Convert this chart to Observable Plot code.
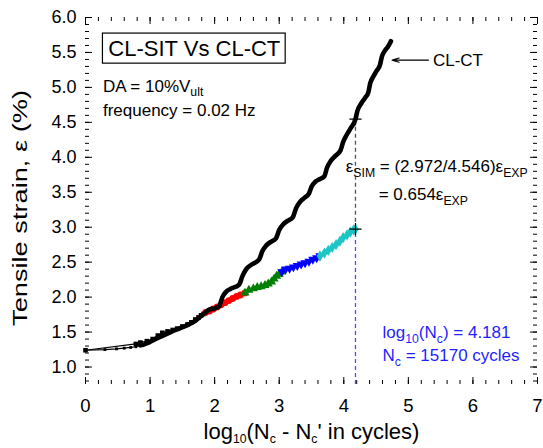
<!DOCTYPE html>
<html><head><meta charset="utf-8">
<script src="https://cdn.jsdelivr.net/npm/d3@7"></script>
<script src="https://cdn.jsdelivr.net/npm/@observablehq/plot@0.6"></script>
<style>body{margin:0;background:#fff} svg{overflow:visible}</style>
</head><body><div id="chart"></div>
<script>
// ---- CL-CT (black, experiment) ----
const ctX = [0,0.30,0.48,0.60,0.70,0.78,0.85,0.90,0.95,1.00,1.04,1.20,1.32,1.45,1.58,1.70,1.79,1.86,1.91,2.00,2.07,
  2.12,2.17,2.25,2.38, 2.43,2.49,2.58,2.69, 2.74,2.80,2.87,2.95, 3.00,3.06,3.13,3.21, 3.26,3.32,3.39,3.46,
  3.50,3.56,3.63,3.70, 3.74,3.80,3.87,3.95, 3.99,4.05,4.11,4.181, 4.21,4.27,4.33,4.38, 4.41,4.46,4.51,4.56,
  4.59,4.64,4.69,4.73];
const ctV = [1.24,1.25,1.26,1.27,1.28,1.29,1.31,1.32,1.34,1.36,1.38,1.45,1.50,1.55,1.60,1.66,1.73,1.78,1.82,1.84,1.87,
  2.00,2.07,2.12,2.18, 2.30,2.40,2.47,2.54, 2.66,2.74,2.79,2.84, 2.96,3.04,3.09,3.14, 3.27,3.36,3.42,3.48,
  3.58,3.65,3.69,3.73, 3.85,3.95,4.02,4.10, 4.22,4.33,4.42,4.546, 4.66,4.77,4.85,4.93, 5.06,5.16,5.24,5.32,
  5.44,5.53,5.59,5.66];
// ---- CL-SIT (simulation) segments ----
const sitBlackX = [0,0.78,0.85,0.95,1.04,1.12,1.19,1.27,1.35,1.42,1.50,1.58,1.64,1.70,1.75,1.79,1.83,1.86];
const sitBlackV = [1.24,1.33,1.35,1.37,1.40,1.45,1.49,1.51,1.53,1.55,1.58,1.61,1.64,1.68,1.71,1.74,1.76,1.78];
const sitRedX = [1.86,1.92,1.98,2.04,2.10,2.16,2.22,2.28,2.34,2.40,2.47];
const sitRedV = [1.78,1.80,1.83,1.86,1.89,1.92,1.95,1.98,2.01,2.03,2.06];
const sitGreenX = [2.47,2.53,2.60,2.66,2.72,2.78,2.83,2.88,2.92,2.96,3.00,3.04];
const sitGreenV = [2.06,2.10,2.12,2.14,2.15,2.17,2.19,2.22,2.26,2.30,2.33,2.36];
const sitBlueX = [3.04,3.10,3.16,3.22,3.28,3.34,3.40,3.46,3.52,3.58,3.63];
const sitBlueV = [2.36,2.40,2.41,2.43,2.45,2.47,2.49,2.51,2.54,2.56,2.59];
const sitCyanX = [3.63,3.70,3.76,3.82,3.88,3.94,3.99,4.05,4.10,4.15,4.181];
const sitCyanV = [2.59,2.63,2.67,2.71,2.75,2.80,2.85,2.89,2.93,2.96,2.972];
// ---- key values ----
const logNc = 4.181, epsSim = 2.972, epsExp = 4.546;
// ---- axes ----
const xTicks = [0,1,2,3,4,5,6,7];
const yTicks = [1.0,1.5,2.0,2.5,3.0,3.5,4.0,4.5,5.0,5.5,6.0];
const xMinor = d3.range(0, 7.001, 0.2);
const yMinor = d3.range(0.8, 6.001, 0.1);
const xTitle = "log_{10}(N_{c} - N_{c}' in cycles)";
const yTitle = "Tensile strain, ε (%)";
// ---- annotations ----
const titleBox = {x1: 0.27, x2: 3.10, y1: 5.34, y2: 5.77, text: "CL-SIT Vs CL-CT"};
const notes = [
  {x: 0.27, y: 4.94, text: "DA = 10%V_{ult}", color: "black"},
  {x: 0.27, y: 4.59, text: "frequency = 0.02 Hz", color: "black"},
  {x: 4.03, y: 3.79, text: "ε_{SIM} = (2.972/4.546)ε_{EXP}", color: "black"},
  {x: 4.54, y: 3.39, text: "= 0.654ε_{EXP}", color: "black"},
  {x: 4.60, y: 1.41, text: "log_{10}(N_{c}) = 4.181", color: "#1f1fff"},
  {x: 4.60, y: 1.08, text: "N_{c} = 15170 cycles", color: "#1f1fff"}
];
const ctLabel = {x: 5.38, y: 5.39, text: "CL-CT", ax1: 5.31, ax2: 4.75};

const zip = (xs, vs) => xs.map((x, i) => ({x, v: vs[i]}));
const ct = zip(ctX, ctV);
const ctThin = ct.filter(d => d.x <= 0.95);
const ctThick = ct.filter(d => d.x >= 0.85);
const sitB = zip(sitBlackX, sitBlackV), sitR = zip(sitRedX, sitRedV), sitG = zip(sitGreenX, sitGreenV),
      sitBl = zip(sitBlueX, sitBlueV), sitC = zip(sitCyanX, sitCyanV);

const FH = 448 - 17 - 64, FW = 543 - 85 - 6;
const seg = (data, color, symbol, rotate) => [
  Plot.line(data, {x: "x", y: "v", stroke: color, strokeWidth: 3.4}),
  Plot.dot(data, {x: "x", y: "v", fill: color, symbol, r: 3.4, rotate: rotate || 0})
];

const plot = Plot.plot({
  width: 543, height: 448,
  marginLeft: 85, marginRight: 6, marginTop: 17, marginBottom: 64,
  x: {domain: [0, 7]},
  y: {domain: [0.75, 6]},
  style: {fontFamily: "'Liberation Sans', Arial, sans-serif", fontSize: "18px", background: "white", overflow: "visible"},
  marks: [
    // ticks (inward, all four sides)
    Plot.tickX(xTicks, {x: d => d, insetTop: FH - 7, stroke: "black"}),
    Plot.tickX(xTicks, {x: d => d, insetBottom: FH - 7, stroke: "black"}),
    Plot.tickX(xMinor, {x: d => d, insetTop: FH - 4, stroke: "black"}),
    Plot.tickX(xMinor, {x: d => d, insetBottom: FH - 4, stroke: "black"}),
    Plot.tickY(yTicks, {y: d => d, insetRight: FW - 7, stroke: "black"}),
    Plot.tickY(yTicks, {y: d => d, insetLeft: FW - 7, stroke: "black"}),
    Plot.tickY(yMinor, {y: d => d, insetRight: FW - 4, stroke: "black"}),
    Plot.tickY(yMinor, {y: d => d, insetLeft: FW - 4, stroke: "black"}),
    Plot.axisX(xTicks, {tickSize: 0, tickPadding: 14, fontSize: 18.5, label: null, tickFormat: d => String(d)}),
    Plot.axisY(yTicks, {tickSize: 0, tickPadding: 9, fontSize: 18, label: null, tickFormat: d => d.toFixed(1)}),
    Plot.text([xTitle], {frameAnchor: "bottom", dy: 47, fontSize: 22, textAnchor: "middle", lineAnchor: "middle"}),
    Plot.text([yTitle], {frameAnchor: "left", dx: -65, dy: 7, rotate: -90, fontSize: 21, textAnchor: "middle", lineAnchor: "middle", className: "ytitle"}),
    // dashed reference lines
    Plot.ruleX([logNc], {x: d => d, y1: 0.75, y2: epsSim, stroke: "#4d4dff", strokeDasharray: "4,3", strokeWidth: 1.3}),
    Plot.ruleX([logNc], {x: d => d, y1: epsSim, y2: epsExp, stroke: "#555", strokeDasharray: "4,3", strokeWidth: 1.3}),
    // CL-SIT
    Plot.line(sitB, {x: "x", y: "v", stroke: "black", strokeWidth: 1.2}),
    Plot.dot(sitB, {x: "x", y: "v", fill: "black", symbol: "square", r: 2.6}),
    ...seg(sitR, "#ff0000", "circle"),
    ...seg(sitG, "#008000", "triangle"),
    ...seg(sitBl, "#0000ff", "triangle", 180),
    ...seg(sitC, "#1cc6c6", "diamond"),
    // CL-CT
    Plot.line(ctThin, {x: "x", y: "v", stroke: "black", strokeWidth: 1.2}),
    Plot.dot(ctThin, {x: "x", y: "v", fill: "black", symbol: "square", r: 1.6}),
    Plot.line(ctThick, {x: "x", y: "v", stroke: "black", strokeWidth: 4.6, curve: "monotone-x", strokeLinejoin: "round", strokeLinecap: "round"}),
    // cross markers
    Plot.dot([{x: logNc, v: epsSim}, {x: logNc, v: epsExp}], {x: "x", y: "v", symbol: "plus", r: 4, stroke: "black", strokeWidth: 1.2}),
    // title box
    Plot.rect([titleBox], {x1: "x1", x2: "x2", y1: "y1", y2: "y2", fill: "none", stroke: "black", strokeWidth: 1.2}),
    Plot.text([titleBox], {x: d => (d.x1 + d.x2) / 2, y: d => (d.y1 + d.y2) / 2, text: "text", fontSize: 22, lineAnchor: "middle"}),
    // notes
    Plot.text(notes, {x: "x", y: "y", text: "text", fill: "color", textAnchor: "start", lineAnchor: "bottom", fontSize: 17}),
    Plot.text([ctLabel], {x: "x", y: "y", text: "text", textAnchor: "start", lineAnchor: "middle", fontSize: 17}),
    Plot.arrow([ctLabel], {x1: "ax1", x2: "ax2", y1: "y", y2: "y", stroke: "black", strokeWidth: 1.2, headLength: 9, headAngle: 34})
  ]
});

// stretch the y title to its length in the reference
d3.select(plot).selectAll(".ytitle text").attr("textLength", 236).attr("lengthAdjust", "spacingAndGlyphs");

// subscripts: convert "_{...}" into tspans
d3.select(plot).selectAll("text").each(function() {
  const t = this.textContent;
  if (!t.includes("_{")) return;
  const fs = parseFloat(getComputedStyle(this).fontSize) || 17;
  const parts = t.split(/(_\{[^}]*\})/).filter(p => p);
  this.textContent = "";
  let inSub = false;
  for (const p of parts) {
    const m = p.match(/^_\{(.*)\}$/);
    const ts = d3.select(this).append("tspan");
    if (m) {
      ts.text(m[1]).attr("font-size", (fs * 0.72) + "px").attr("dy", (fs * 0.27) + "px");
      inSub = true;
    } else {
      ts.text(p);
      if (inSub) ts.attr("dy", (-fs * 0.27) + "px");
      inSub = false;
    }
  }
});
document.getElementById("chart").append(plot);
</script>
</body></html>
